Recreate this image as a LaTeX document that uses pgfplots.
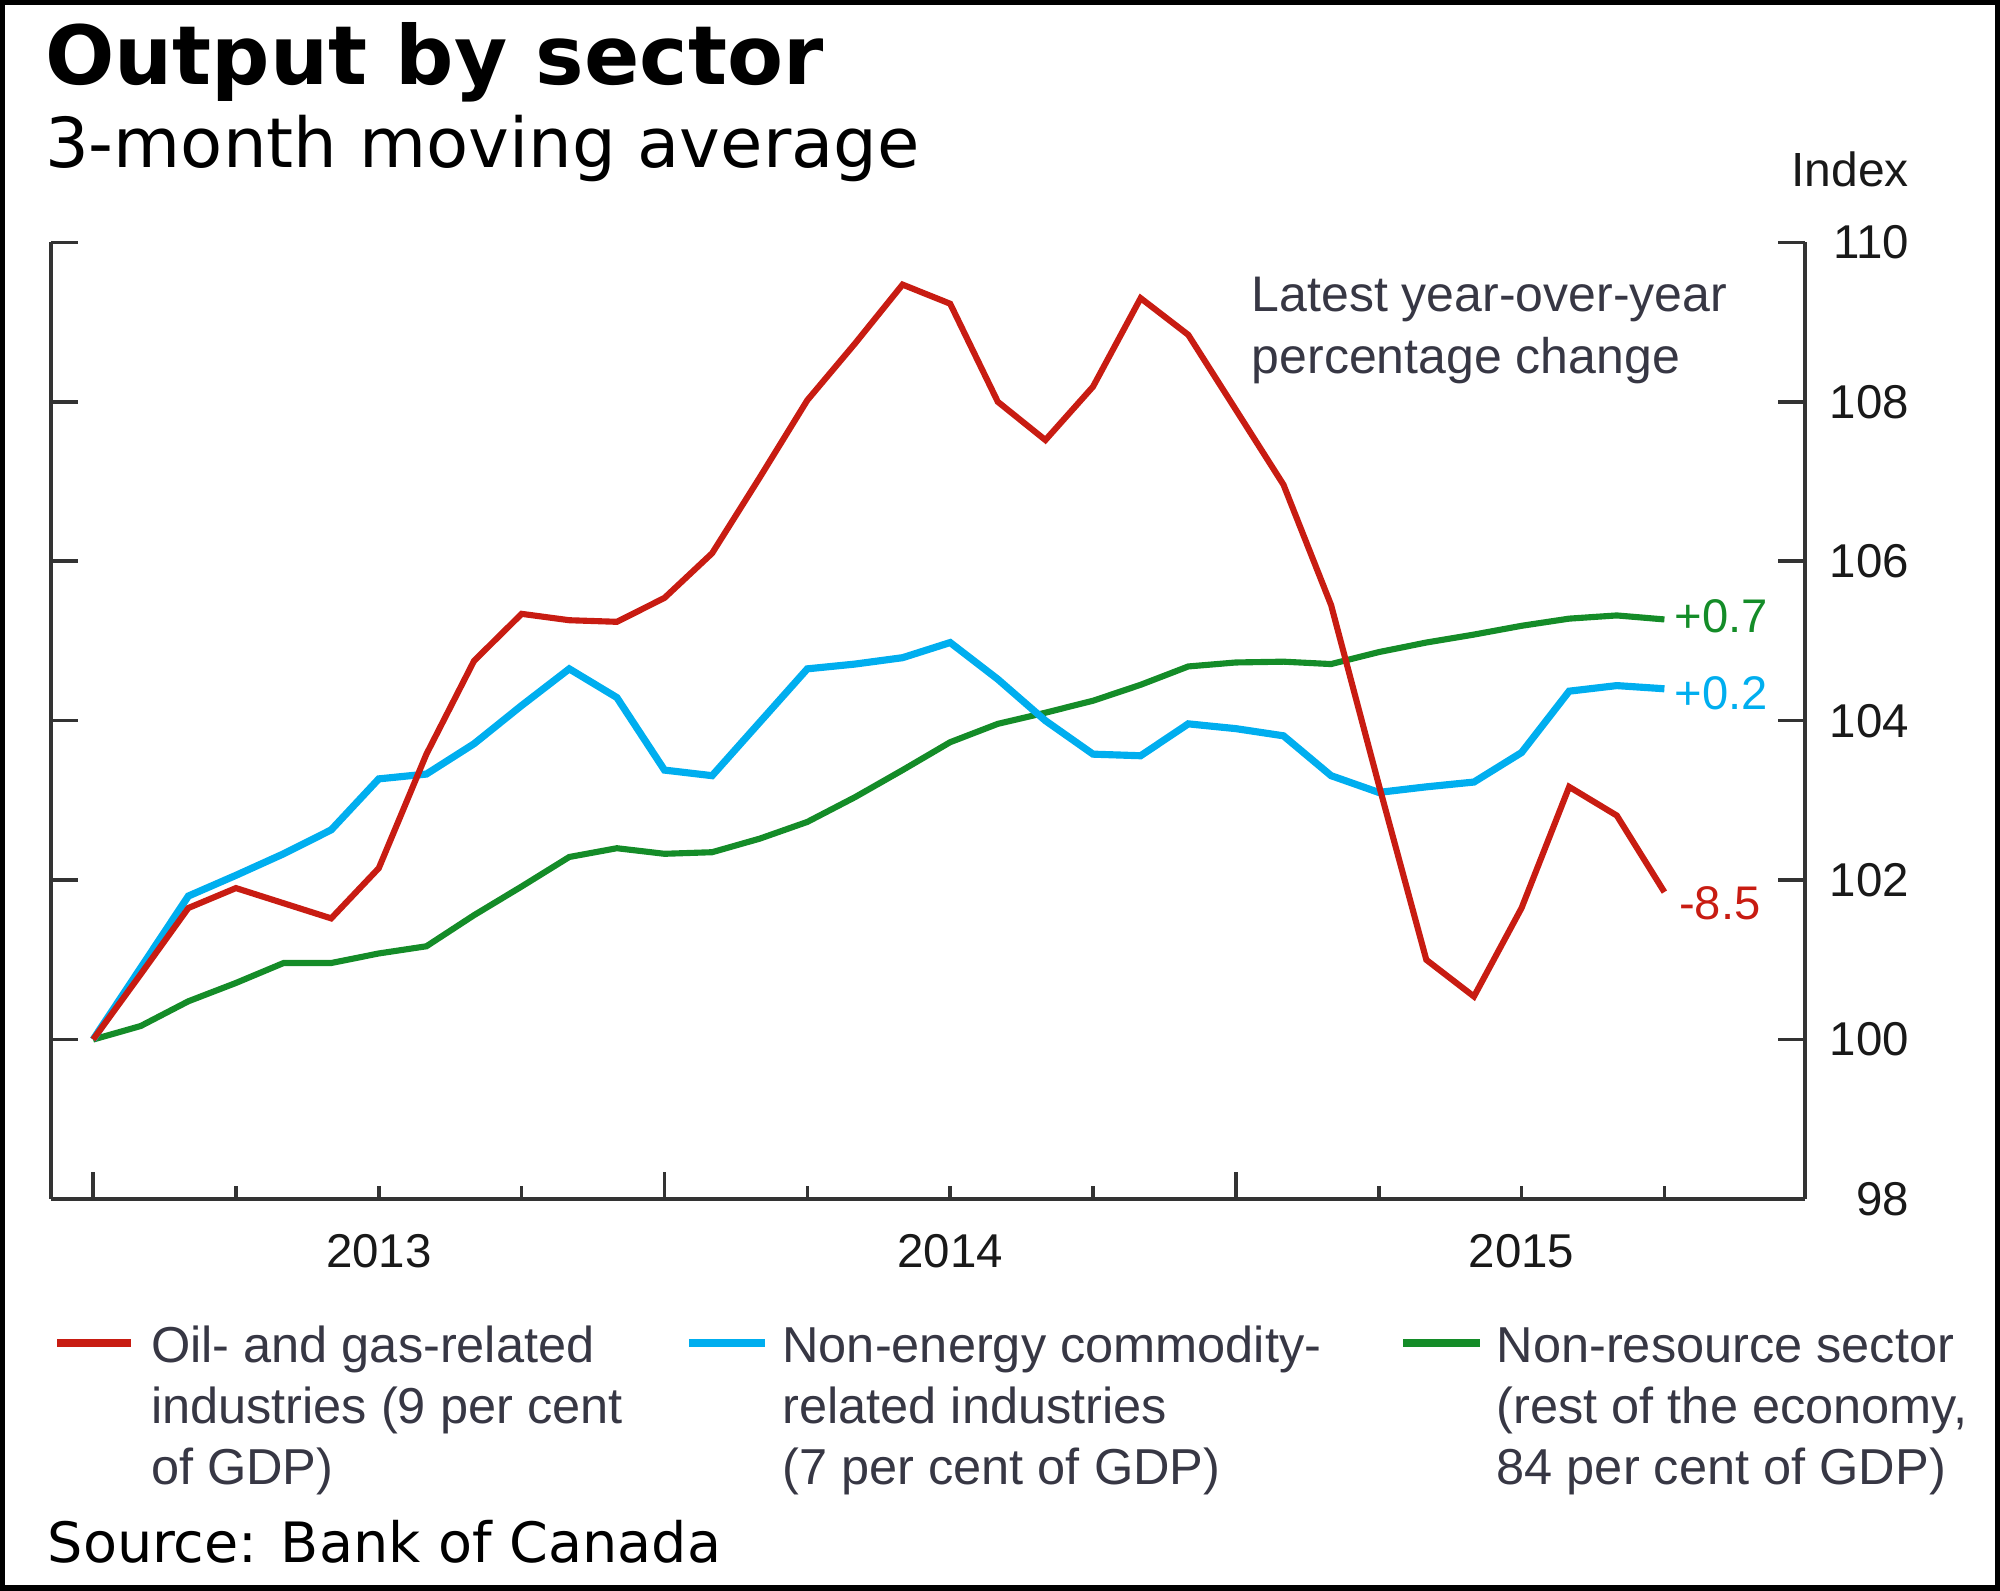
\documentclass[border=0pt]{standalone}
\usepackage{fontspec}
\setmainfont{Liberation Sans}
\newfontfamily\dejavu{DejaVu Sans}
\usepackage{pgfplots}
\pgfplotsset{compat=1.18}

\definecolor{oilred}{RGB}{200,28,18}
\definecolor{nonblue}{RGB}{0,174,239}
\definecolor{resgreen}{RGB}{20,140,40}
\definecolor{axisgray}{RGB}{51,51,51}
\definecolor{txtgray}{RGB}{55,55,68}

\begin{document}
\begin{tikzpicture}
\path[use as bounding box] (0,0) rectangle (784pt,-623.5pt);
\draw[line width=2pt] (1pt,-1pt) rectangle (783pt,-622.5pt);

\begin{axis}[
  at={(20pt,-470pt)}, anchor=south west,
  scale only axis, width=687.5pt, height=375pt,
  xmin=-0.884, xmax=35.95, ymin=98, ymax=110,
  axis x line*=bottom,
  axis line style={axisgray, line width=1.6pt},
  tick align=inside,
  major tick length=10.5pt, minor tick length=5pt,
  tick style={axisgray, line width=1.4pt},
  ytick={98,100,...,110},
  yticklabel pos=right,
  xtick={0,12,24}, xticklabels={,,},
  minor xtick={3,6,9,15,18,21,27,30,33},
  extra x ticks={6,18,30}, extra x tick labels={2013,2014,2015},
  extra x tick style={tick style={draw=none}},
  /pgf/number format/assume math mode=true,
  tick label style={font=\fontsize{18.6}{20}\selectfont, text=black!90},
  yticklabel style={anchor=east, inner sep=0pt, xshift=41pt},
  xticklabel style={anchor=north, inner sep=0pt, yshift=-13.5pt},
  clip=false,
]
% non-resource sector
\addplot[resgreen, line width=2.4pt] coordinates {
(0,100) (1,100.17) (2,100.48) (3,100.71) (4,100.96) (5,100.96) (6,101.08)
(7,101.17) (8,101.56) (9,101.92) (10,102.29) (11,102.40) (12,102.33)
(13,102.35) (14,102.52) (15,102.73) (16,103.04) (17,103.38) (18,103.73)
(19,103.96) (20,104.10) (21,104.25) (22,104.45) (23,104.68) (24,104.73)
(25,104.74) (26,104.71) (27,104.86) (28,104.98) (29,105.08) (30,105.19)
(31,105.28) (32,105.32) (33,105.27)};
% non-energy commodity
\addplot[nonblue, line width=2.8pt] coordinates {
(0,100) (1,100.90) (2,101.80) (3,102.06) (4,102.33) (5,102.63) (6,103.27)
(7,103.33) (8,103.71) (9,104.19) (10,104.65) (11,104.29) (12,103.38)
(13,103.31) (14,103.98) (15,104.65) (16,104.71) (17,104.79) (18,104.98)
(19,104.52) (20,104.00) (21,103.58) (22,103.56) (23,103.96) (24,103.90)
(25,103.81) (26,103.31) (27,103.10) (28,103.17) (29,103.23) (30,103.60)
(31,104.37) (32,104.44) (33,104.40)};
% oil and gas
\addplot[oilred, line width=2.4pt] coordinates {
(0,100) (1,100.82) (2,101.65) (3,101.90) (4,101.71) (5,101.52) (6,102.15)
(7,103.58) (8,104.75) (9,105.34) (10,105.26) (11,105.24) (12,105.54)
(13,106.10) (14,107.05) (15,108.02) (16,108.73) (17,109.47) (18,109.23)
(19,108.00) (20,107.52) (21,108.19) (22,109.30) (23,108.84) (24,107.90)
(25,106.96) (26,105.45) (27,103.20) (28,101.00) (29,100.54) (30,101.65)
(31,103.17) (32,102.81) (33,101.85)};

\node[anchor=west, inner sep=0pt, text=resgreen, font=\fontsize{18.5}{20}\selectfont] at (axis cs:33.2,105.31) {+0.7};
\node[anchor=west, inner sep=0pt, text=nonblue, font=\fontsize{18.5}{20}\selectfont] at (axis cs:33.2,104.35) {+0.2};
\node[anchor=west, inner sep=0pt, text=oilred, font=\fontsize{18.5}{20}\selectfont] at (axis cs:33.3,101.71) {-8.5};
\end{axis}

\begin{scope}[x=0.5pt,y=-0.5pt]
% titles
\node[anchor=base west, inner sep=0pt, font=\dejavu\bfseries\fontsize{32}{38}\selectfont] at (35,66) {Output by sector};
\node[anchor=base west, inner sep=0pt, font=\dejavu\fontsize{27}{32}\selectfont] at (35,131) {3-month moving average};
\node[anchor=base west, inner sep=0pt, font=\dejavu\fontsize{21.8}{26}\selectfont] at (37,1225) {Source: Bank of Canada};
% axis unit
\node[anchor=base east, inner sep=0pt, text=black!90, font=\fontsize{18.8}{20}\selectfont] at (1497,146) {Index};
% note
\node[anchor=base west, inner sep=0pt, text=txtgray, font=\fontsize{19.6}{22}\selectfont] at (981,244) {Latest year-over-year};
\node[anchor=base west, inner sep=0pt, text=txtgray, font=\fontsize{19.6}{22}\selectfont] at (981,293) {percentage change};
% legend
\draw[oilred, line width=3.2pt] (45,1053) -- (103,1053);
\draw[nonblue, line width=3.2pt] (540,1053) -- (600,1053);
\draw[resgreen, line width=3.2pt] (1100,1053) -- (1160,1053);
\begin{scope}[every node/.style={anchor=base west, inner sep=0pt, text=txtgray, font=\fontsize{19.8}{22}\selectfont}]
\node at (118,1068) {Oil- and gas-related};
\node at (118,1116) {industries (9 per cent};
\node at (118,1164) {of GDP)};
\node at (613,1068) {Non-energy commodity-};
\node at (613,1116) {related industries};
\node at (613,1164) {(7 per cent of GDP)};
\node at (1173,1068) {Non-resource sector};
\node at (1173,1116) {(rest of the economy,};
\node at (1173,1164) {84 per cent of GDP)};
\end{scope}
\end{scope}
\end{tikzpicture}
\end{document}
